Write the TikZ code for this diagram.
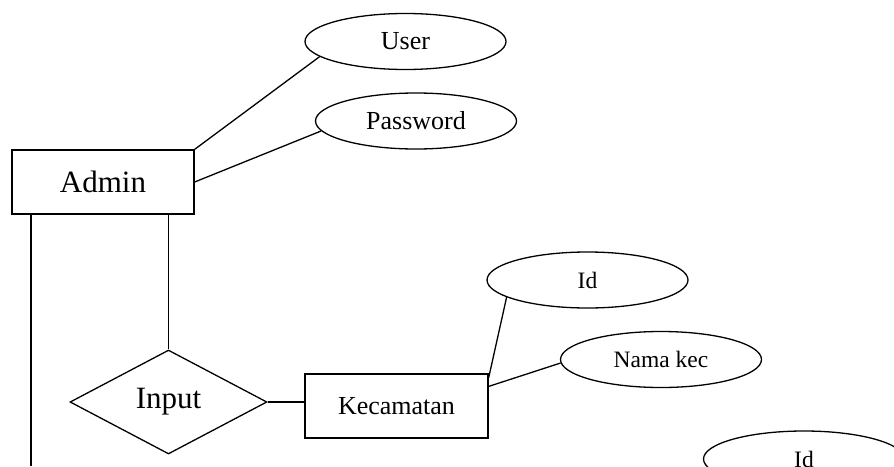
\documentclass[tikz,border=0pt]{standalone}
\usepackage{fontspec}
\setmainfont{Liberation Serif}
\usetikzlibrary{shapes.geometric}

\begin{document}
\begin{tikzpicture}[x=1pt, y=-1pt, line width=1.3pt,
    entity/.style ={rectangle, draw, minimum width=182pt, minimum height=64pt, inner sep=0pt},
    attribute/.style ={ellipse, draw, minimum width=201pt, minimum height=56pt, inner sep=0pt,
      font=\fontsize{26}{30}\selectfont},
    relation/.style ={diamond, draw, minimum width=197pt, minimum height=104pt, inner sep=0pt,
      font=\fontsize{31}{36}\selectfont}]
   \useasboundingbox (0,0) rectangle (894,466);
   \clip (0,0) rectangle (894,466);
   \node[entity, font=\fontsize{31}{36}\selectfont] (admin) at (103,182) {Admin};
   \node[attribute] (user) at (405.5,41.5) {User};
   \node[attribute] (password) at (416,121) {Password};
   \node[relation] (input) at (168.5,402) {Input};
   \node[entity, minimum width=183pt, font=\fontsize{26}{30}\selectfont] (kec) at (396.5,406) {Kecamatan};
   \node[attribute, font=\fontsize{23.5}{28}\selectfont] (idkec) at (587.5,280) {Id};
   \node[attribute, font=\fontsize{23.5}{28}\selectfont] (namakec) at (661,359.5) {Nama kec};
   \node[attribute, font=\fontsize{23.5}{28}\selectfont] (idnext) at (804,459) {Id};
   \coordinate (down) at (31,466);
   \draw (admin.north east) to (user.190);
   \draw (admin.east) to (password.186);
   \draw (admin.south -| down) to (down);
   \draw (admin.south -| input.north) to (input.north);
   \draw (input.east) to (input.east -| kec.west);
   \draw (kec.17) to (idkec.192);
   \draw (kec.12) to (namakec.182);
 \end{tikzpicture}
\end{document}
